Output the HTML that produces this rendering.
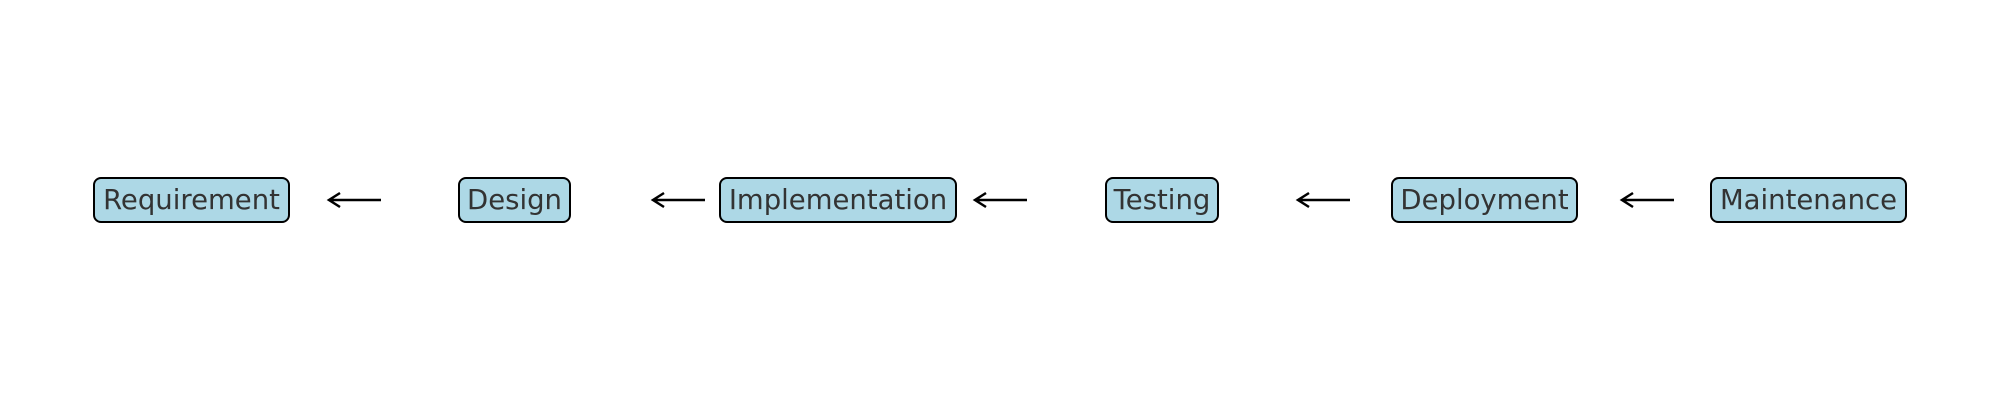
<!DOCTYPE html>
<html><head><style>
body{margin:0;width:2000px;height:400px;background:#fff;position:relative;overflow:hidden;font-family:"DejaVu Sans","Liberation Sans",sans-serif}
.b{position:absolute;top:177px;height:46px;box-sizing:border-box;border:2.5px solid #000;border-radius:8px;background:#add8e6;color:#333;font-size:27.5px;line-height:42px;text-align:center;white-space:nowrap}
svg{position:absolute;left:0;top:0}
</style></head><body>
<div class="b" style="left:93px;width:197px">Requirement</div>
<div class="b" style="left:458px;width:113px">Design</div>
<div class="b" style="left:719px;width:238px">Implementation</div>
<div class="b" style="left:1105px;width:114px">Testing</div>
<div class="b" style="left:1391px;width:187px">Deployment</div>
<div class="b" style="left:1710px;width:197px">Maintenance</div>
<svg width="2000" height="400" fill="none" stroke="#000" stroke-width="2.5">
<g id="a"><path d="M329 200H381M340 193L329 200L340 207"/></g>
<use href="#a" x="324"/><use href="#a" x="646"/><use href="#a" x="969"/><use href="#a" x="1293"/>
</svg>
</body></html>
